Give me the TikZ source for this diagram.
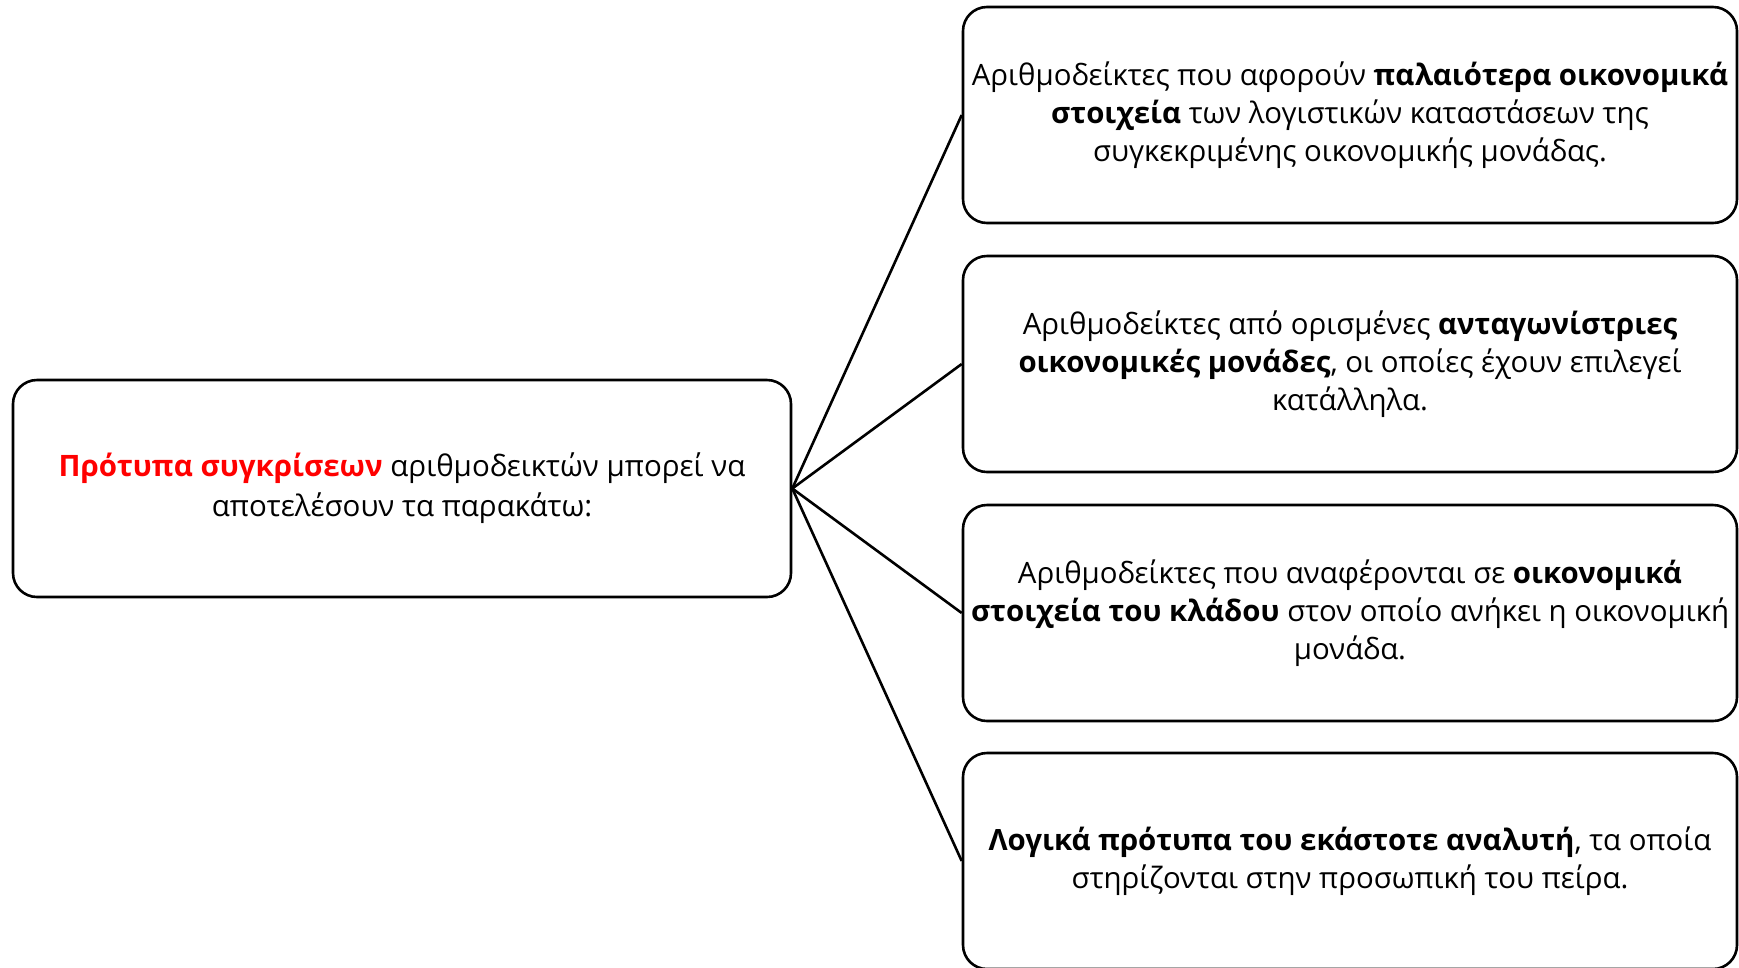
\documentclass[tikz,border=0pt]{standalone}
\usepackage{fontspec}
\setmainfont{Open Sans}
\tikzset{
  box/.style={draw=black, line width=2.6pt, rounded corners=24pt, align=center, inner sep=0pt},
  rbox/.style={box, minimum width=774pt, minimum height=216pt, font=\fontsize{29.4}{38}\selectfont},
  lbox/.style={box, minimum width=778pt, minimum height=217pt, font=\fontsize{29.5}{40}\selectfont},
  link/.style={line width=2.6pt}
}
\begin{document}
\begin{tikzpicture}[x=1pt,y=-1pt]
\useasboundingbox (0,0) rectangle (1739,967);
\node[lbox] (src) at (402,488.5) {{\color{red}\textbf{Πρότυπα συγκρίσεων}} αριθμοδεικτών μπορεί να\\αποτελέσουν τα παρακάτω:};
\node[rbox] (b1) at (1350,115) {Αριθμοδείκτες που αφορούν \textbf{παλαιότερα οικονομικά}\\\textbf{στοιχεία} των λογιστικών καταστάσεων της\\συγκεκριμένης οικονομικής μονάδας.};
\node[rbox] (b2) at (1350,364) {Αριθμοδείκτες από ορισμένες \textbf{ανταγωνίστριες}\\\textbf{οικονομικές μονάδες}, οι οποίες έχουν επιλεγεί\\κατάλληλα.};
\node[rbox] (b3) at (1350,613) {Αριθμοδείκτες που αναφέρονται σε \textbf{οικονομικά}\\\textbf{στοιχεία του κλάδου} στον οποίο ανήκει η οικονομική\\μονάδα.};
\node[rbox] (b4) at (1350,861) {\textbf{Λογικά πρότυπα του εκάστοτε αναλυτή}, τα οποία\\στηρίζονται στην προσωπική του πείρα.};
\foreach \b in {b1,b2,b3,b4} \draw[link] (src.east) -- (\b.west);
\end{tikzpicture}
\end{document}
